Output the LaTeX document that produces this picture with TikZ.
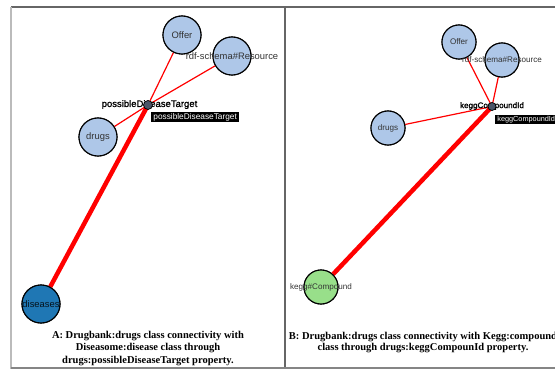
\documentclass[tikz,border=0pt]{standalone}
\usepackage{fontspec}
\setmainfont{Liberation Serif}
\setsansfont{Liberation Sans}
\newfontfamily\propfont[FakeBold=1.3]{Liberation Sans}
\definecolor{lblue}{HTML}{AEC7E8}
\definecolor{dblue}{HTML}{1F77B4}
\definecolor{lgreen}{HTML}{98DF8A}
\definecolor{propfill}{HTML}{4A5568}
\definecolor{framedark}{HTML}{666666}
\definecolor{framelight}{HTML}{BBBBBB}
\definecolor{labelgray}{HTML}{333333}
\begin{document}
\begin{tikzpicture}[x=1pt,y=-1pt,
  cls/.style={circle, draw=black, line width=1.1pt, fill=lblue, minimum size=#1, inner sep=0pt},
  prop/.style={circle, draw=black, line width=0.7pt, fill=propfill, minimum size=#1, inner sep=0pt},
  lblA/.style={font=\sffamily\fontsize{9.4}{10}\selectfont, text=labelgray, inner sep=0pt},
  lblB/.style={font=\sffamily\fontsize{8.1}{9}\selectfont, text=labelgray, inner sep=0pt},
  plblA/.style={font=\propfont\fontsize{9.5}{10}\selectfont, text=black, inner sep=0pt},
  plblB/.style={font=\propfont\fontsize{8.1}{9}\selectfont, text=black, inner sep=0pt},
  tip/.style={fill=black, text=white, inner xsep=2.2pt, inner ysep=0pt, anchor=north west},
  thinedge/.style={red, line width=1.2pt},
  thickedge/.style={red, line width=4.5pt},
  caption/.style={font=\bfseries\fontsize{10.5}{12.5}\selectfont, align=center, inner sep=0pt}
]
\useasboundingbox (0,0) rectangle (555,369);
\fill[white] (0,0) rectangle (555,369);
% frame
\draw[framedark, line width=1.2pt] (11,7) -- (555,7);
\draw[framelight, line width=2pt] (11,7) -- (11,369);
\draw[framedark, line width=1.2pt] (285,7) -- (285,369);
\draw[framedark!80, line width=1.4pt] (11,368) -- (555,368);

% ---------- Panel A ----------
\node[cls=38pt] (offerA) at (182,35) {};
\node[cls=38pt] (rdfA) at (232,56) {};
\node[cls=38pt] (drugsA) at (98,137) {};
\node[cls=38pt, fill=dblue] (disA) at (41,304) {};
\coordinate (pA) at (148,105);
\draw[thinedge] (pA) -- (offerA);
\draw[thinedge] (pA) -- (rdfA);
\draw[thinedge] (pA) -- (drugsA);
\draw[thickedge] (pA) -- (disA);
% redraw circles on top of edges
\node[cls=38pt] at (offerA) {};
\node[cls=38pt] at (rdfA) {};
\node[cls=38pt] at (drugsA) {};
\node[cls=38pt, fill=dblue] at (disA) {};
\node[lblA] (offerAl) at (offerA) {Offer};
\node[lblA] (rdfAl) at (rdfA) {rdf-schema\#Resource};
\node[lblA] (drugsAl) at (drugsA) {drugs};
\node[lblA, text=black!85!dblue] (disAl) at (disA) {diseases};
\node[plblA] (pAl) at (149.5,104.5) {possibleDiseaseTarget};
\node[prop=9pt] (propA) at (pA) {};
\node[tip, minimum height=10.5pt, font=\sffamily\fontsize{8.3}{9}\selectfont] (tipA) at (151,111.5) {possibleDiseaseTarget};
\node[caption] (capA) at (148,348.5) {A: Drugbank:drugs class connectivity with\\Diseasome:disease class through\\drugs:possibleDiseaseTarget property.};

% ---------- Panel B ----------
\node[cls=34pt] (offerB) at (459,42) {};
\node[cls=34pt] (rdfB) at (502,60) {};
\node[cls=34pt] (drugsB) at (388,128) {};
\node[cls=34pt, fill=lgreen] (kegB) at (321,287) {};
\coordinate (pB) at (492,106.5);
\draw[thinedge] (pB) -- (offerB);
\draw[thinedge] (pB) -- (rdfB);
\draw[thinedge] (pB) -- (drugsB);
\draw[thickedge] (pB) -- (kegB);
\node[cls=34pt] at (offerB) {};
\node[cls=34pt] at (rdfB) {};
\node[cls=34pt] at (drugsB) {};
\node[cls=34pt, fill=lgreen] at (kegB) {};
\node[lblB] (offerBl) at (offerB) {Offer};
\node[lblB] (rdfBl) at (rdfB) {rdf-schema\#Resource};
\node[lblB] (drugsBl) at (drugsB) {drugs};
\node[lblB] (kegBl) at (kegB) {kegg\#Compound};
\node[plblB] (pBl) at (492,106) {keggCompoundId};
\node[prop=8pt] (propB) at (pB) {};
\node[tip, minimum height=9pt, font=\sffamily\fontsize{7.3}{8}\selectfont] (tipB) at (495,114.5) {keggCompoundId};
\node[caption, font=\bfseries\fontsize{10.5}{11.5}\selectfont] (capB) at (423,342.5) {B: Drugbank:drugs class connectivity with Kegg:compound\\class through drugs:keggCompounId property.};
\end{tikzpicture}
\end{document}
